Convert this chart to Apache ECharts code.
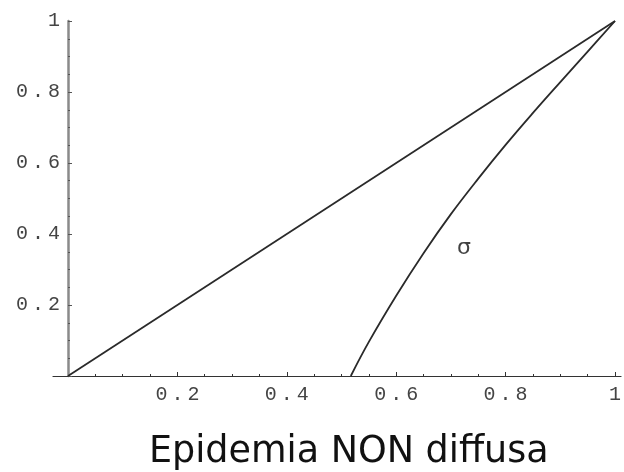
<!DOCTYPE html>
<html>
<head>
    <meta charset="UTF-8">
    <title>Epidemia NON diffusa</title>
    <script src="https://cdn.jsdelivr.net/npm/echarts@6/dist/echarts.min.js"></script>
    <style>
        html, body { margin: 0; padding: 0; background: #fff; }
        #main { width: 624px; height: 472px; }
    </style>
</head>
<body>
<div id="main"></div>
<script>
    // dati
    var diagX = [0, 1];
    var diagY = [0, 1];
    var sigmaX = [0.517, 0.55, 0.60, 0.65, 0.70, 0.75, 0.80, 0.85, 0.90, 0.95, 1.0];
    var sigmaY = [0, 0.096, 0.226, 0.346, 0.456, 0.556, 0.651, 0.741, 0.828, 0.914, 1.0];
    var sigmaLabel = [0.724, 0.36];
    var majorTicks = [0.2, 0.4, 0.6, 0.8, 1];
    var minorTicks = [0.05, 0.1, 0.15, 0.25, 0.3, 0.35, 0.45, 0.5, 0.55, 0.65, 0.7, 0.75, 0.85, 0.9, 0.95];
    var titolo = 'Epidemia NON diffusa';

    function pairs(xs, ys) {
        return xs.map(function (x, i) { return [x, ys[i]]; });
    }

    // etichette in stile Mathematica (Courier spaziato)
    function monoLabel(v) {
        if (v === 0) return '';
        return String(v).split('').map(function (c) { return '{c|' + c + '}'; }).join('');
    }
    var monoRich = {
        c: { width: 16, align: 'center', fontFamily: 'Liberation Mono', fontSize: 20, color: '#444' }
    };

    var chart = echarts.init(document.getElementById('main'), null, {renderer: 'canvas'});
    chart.setOption({
        animation: false,
        title: {
            text: titolo,
            left: 144,
            top: 429,
            textStyle: { fontFamily: 'DejaVu Sans', fontSize: 36.5, fontWeight: 'normal', color: '#111' }
        },
        grid: { left: 53, right: 2, top: 21, bottom: 96 },
        xAxis: [{
            type: 'value',
            min: -0.0274,
            max: 1.011,
            position: 'bottom',
            splitLine: { show: false },
            axisLine: { onZero: false, lineStyle: { color: '#333', width: 1.2 } },
            axisTick: { inside: true, length: 4, customValues: majorTicks, lineStyle: { color: '#333' } },
            axisLabel: { customValues: majorTicks, margin: 9, formatter: monoLabel, rich: monoRich }
        }, {
            type: 'value',
            min: -0.0274,
            max: 1.011,
            position: 'bottom',
            splitLine: { show: false },
            axisLine: { show: false, onZero: false },
            axisTick: { inside: true, length: 2, customValues: minorTicks, lineStyle: { color: '#333' } },
            axisLabel: { show: false }
        }],
        yAxis: {
            type: 'value',
            min: 0,
            max: 1,
            interval: 0.2,
            offset: -15,
            splitLine: { show: false },
            axisLine: { onZero: false, lineStyle: { color: '#8a8a8a', width: 2.5 } },
            axisTick: { inside: true, length: 4, lineStyle: { color: '#555' } },
            minorTick: { show: true, splitNumber: 4, length: 2, lineStyle: { color: '#555' } },
            axisLabel: { margin: 6, showMinLabel: false, formatter: monoLabel, rich: monoRich }
        },
        series: [{
            type: 'line',
            data: pairs(diagX, diagY),
            showSymbol: false,
            lineStyle: { color: '#2a2a2a', width: 1.8 }
        }, {
            type: 'line',
            data: pairs(sigmaX, sigmaY),
            smooth: 0.4,
            showSymbol: false,
            lineStyle: { color: '#2a2a2a', width: 1.8 }
        }, {
            type: 'scatter',
            data: [sigmaLabel],
            symbolSize: 0,
            silent: true,
            label: {
                show: true,
                position: 'inside',
                formatter: 'σ',
                fontFamily: 'DejaVu Sans',
                fontSize: 22,
                color: '#111'
            }
        }]
    });
</script>
</body>
</html>
